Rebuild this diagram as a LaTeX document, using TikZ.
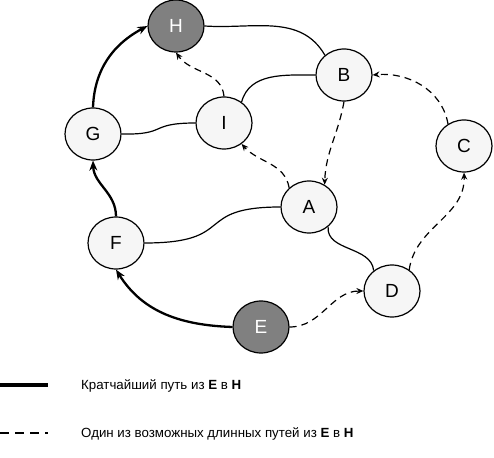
\documentclass[tikz,border=0pt]{standalone}
\usepackage{fontspec}
\setmainfont{Liberation Sans}
\usetikzlibrary{arrows.meta,shapes.geometric}

\begin{document}
\begin{tikzpicture}[x=1pt,y=1pt,>={Stealth[length=7pt,width=6pt]},
  vertex/.style={ellipse,draw,line width=1.2pt,fill=gray!7,minimum width=56pt,
    minimum height=52pt,inner sep=0pt,font=\fontsize{19}{19}\selectfont},
  hub/.style={vertex,fill=black!50,text=white},
  link/.style={line width=1.2pt},
  shortest/.style={line width=2.3pt,-{Stealth[length=10pt,width=8pt]}},
  longway/.style={line width=1.2pt,dash pattern=on 7pt off 5pt,->},
  legend/.style={anchor=west,inner sep=0pt,font=\fontsize{13.3}{15}\selectfont}]
  \useasboundingbox (0,0) rectangle (494,457);
  % vertices
  \node[hub]    (H) at (176,431) {H};
  \node[vertex] (G) at (93,323)  {G};
  \node[vertex] (I) at (224,334) {I};
  \node[vertex] (B) at (344,382) {B};
  \node[vertex] (C) at (464,311) {C};
  \node[vertex] (A) at (309,250) {A};
  \node[vertex] (F) at (116,214) {F};
  \node[vertex] (D) at (392,166) {D};
  \node[hub]    (E) at (261,130) {E};
  % plain edges
  \draw[link] (H.east) to[out=-4,in=120] (B.134);
  \draw[link] (I.50) to[out=75,in=180] (B.west);
  \draw[link] (G.east) .. controls (168,322) and (148,334) .. (I.west);
  \draw[link] (F.east) .. controls (238,214) and (192,250) .. (A.west);
  \draw[link] (A.-46) to[out=-95,in=95] (D.132);
  % shortest path
  \draw[shortest] (E.west) to[out=178,in=-58] (F.south);
  \draw[shortest] (F.north) to[out=90,in=-88] (G.south);
  \draw[shortest] (G.north) to[out=88,in=-152] (H.west);
  % a long path
  \draw[longway] (E.east) to[out=0,in=180] (D.west);
  \draw[longway] (D.51) to[out=82,in=-88] (C.south);
  \draw[longway] (C.126) to[out=100,in=5] (B.east);
  \draw[longway] (B.-90) to[out=-100,in=88] (A.55);
  \draw[longway] (A.136) to[out=100,in=-48] (I.-50);
  \draw[longway] (I.north) to[out=95,in=-55] (H.south);
  % legend
  \coordinate (s1) at (0,72);  \coordinate (s2) at (48,72);
  \coordinate (d1) at (0,24);  \coordinate (d2) at (48,24);
  \draw[line width=3.5pt] (s1) -- (s2);
  \draw[line width=1.2pt,dash pattern=on 9pt off 6pt] (d1) -- (d2);
  \node[legend] (shorttxt) at (81,71) {Кратчайший путь из \textbf{E} в \textbf{H}};
  \node[legend] (longtxt)  at (81,23) {Один из возможных длинных путей из \textbf{E} в \textbf{H}};
\end{tikzpicture}
\end{document}
